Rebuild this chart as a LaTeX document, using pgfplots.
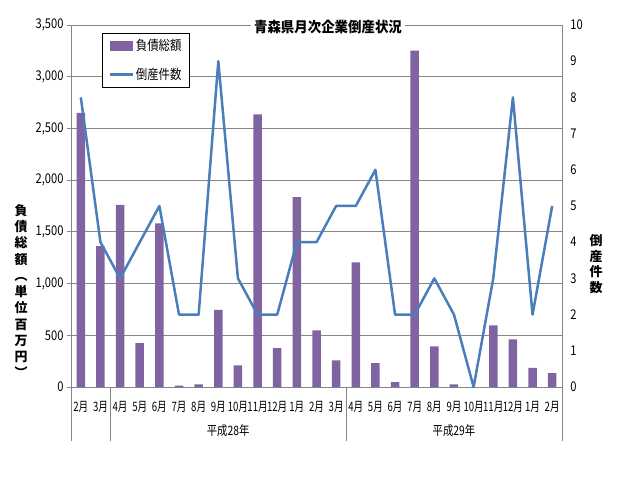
\documentclass[border=0pt]{standalone}
\usepackage{graphicx}
\usepackage{pgfplots}
\pgfplotsset{compat=1.18}
\usepackage{fontspec}
\setmainfont{Noto Sans CJK JP}
\definecolor{barpurple}{HTML}{8064A2}
\definecolor{linecol}{HTML}{4A7EBB}
\definecolor{gridgray}{HTML}{868686}
\begin{document}
\begin{tikzpicture}
\useasboundingbox (-71bp,-103bp) rectangle (569bp,387bp);
\begin{axis}[
  at={(0,0)}, anchor=south west,
  scale only axis, width=491bp, height=362bp,
  xmin=-0.5, xmax=24.5, ymin=0, ymax=3500,
  axis y line*=left, axis x line*=bottom,
  axis line style={draw=gridgray, line width=0.8bp},
  ytick={0,500,...,3500},
  xtick={0,...,24},
  xticklabels={2月,3月,4月,5月,6月,7月,8月,9月,10月,11月,12月,1月,2月,3月,4月,5月,6月,7月,8月,9月,10月,11月,12月,1月,2月},
  xtick style={draw=none},
  ytick style={draw=gridgray, line width=0.8bp},
  tick align=outside, major tick length=4bp,
  ymajorgrids, grid style={draw=gridgray, line width=0.8bp},
  /pgf/number format/1000 sep={,},
  /pgf/number format/assume math mode=true,
  yticklabel style={font=\fontsize{13.5}{15}\selectfont, xscale=0.83, inner sep=0pt, xshift=-4bp},
  xticklabel style={font=\fontsize{13}{15}\selectfont, xscale=0.74, inner sep=0pt, anchor=center, yshift=-16bp},
  clip=false,
  legend style={at={(0.063,0.978)}, anchor=north west, draw=black, line width=0.8bp,
    font=\fontsize{13.5}{15}\selectfont, inner xsep=6bp, inner ysep=4bp, row sep=12bp,
    cells={anchor=west}},
]
\addplot[ybar, bar width=8.5bp, fill=barpurple, draw=none,
  legend image code/.code={\fill[barpurple] (0bp,-5bp) rectangle (23bp,5bp);}]
  coordinates {(0,2650) (1,1363) (2,1760) (3,425) (4,1583) (5,13) (6,26) (7,745) (8,210) (9,2637) (10,377) (11,1837) (12,548) (13,258) (14,1206) (15,232) (16,48) (17,3252) (18,393) (19,26) (20,0) (21,597) (22,461) (23,184) (24,135)};
\addlegendentry{\scalebox{0.85}[1]{負債総額}}
\addlegendimage{legend image code/.code={\draw[linecol, line width=2.5bp] (0bp,0bp) -- (23bp,0bp);}}
\addlegendentry{\scalebox{0.85}[1]{倒産件数}}
\draw[gridgray, line width=0.8bp] (axis cs:-0.5,0) -- ++(0bp,-54bp);
\draw[gridgray, line width=0.8bp] (axis cs:1.5,0) -- ++(0bp,-54bp);
\draw[gridgray, line width=0.8bp] (axis cs:13.5,0) -- ++(0bp,-54bp);
\draw[gridgray, line width=0.8bp] (axis cs:24.5,0) -- ++(0bp,-54bp);
\node[font=\fontsize{13}{15}\selectfont, xscale=0.8, yshift=-44bp] at (axis cs:7.5,0) {平成28年};
\node[font=\fontsize{13}{15}\selectfont, xscale=0.8, yshift=-44bp] at (axis cs:19,0) {平成29年};
\end{axis}
\begin{axis}[
  at={(0,0)}, anchor=south west,
  scale only axis, width=491bp, height=362bp,
  xmin=-0.5, xmax=24.5, ymin=0, ymax=10,
  axis y line*=right, axis x line=none,
  axis line style={draw=gridgray, line width=0.8bp},
  ytick={0,1,...,10},
  ytick style={draw=none},
  /pgf/number format/assume math mode=true,
  yticklabel style={font=\fontsize{13.5}{15}\selectfont, xscale=0.83, inner sep=0pt, anchor=west, xshift=10bp},
  clip=false,
]
\addplot[linecol, line width=2.5bp, line join=round, mark=none]
  coordinates {(0,8) (1,4) (2,3) (3,4) (4,5) (5,2) (6,2) (7,9) (8,3) (9,2) (10,2) (11,4) (12,4) (13,5) (14,5) (15,6) (16,2) (17,2) (18,3) (19,2) (20,0) (21,3) (22,8) (23,2) (24,5)};
\end{axis}
\node[fill=white, font=\bfseries\fontsize{14.5}{16}\selectfont, xscale=0.93, inner xsep=3bp, inner ysep=1bp] at (257bp,360bp) {青森県月次企業倒産状況};
\node[font=\bfseries\fontsize{13}{16.3}\selectfont, align=center, inner sep=0pt] at (-50bp,96bp) {負\\債\\総\\額\\︵\\単\\位\\百\\万\\円\\︶};
\node[font=\bfseries\fontsize{13}{15.5}\selectfont, align=center, inner sep=0pt] at (525bp,123bp) {倒\\産\\件\\数};
\end{tikzpicture}
\end{document}
